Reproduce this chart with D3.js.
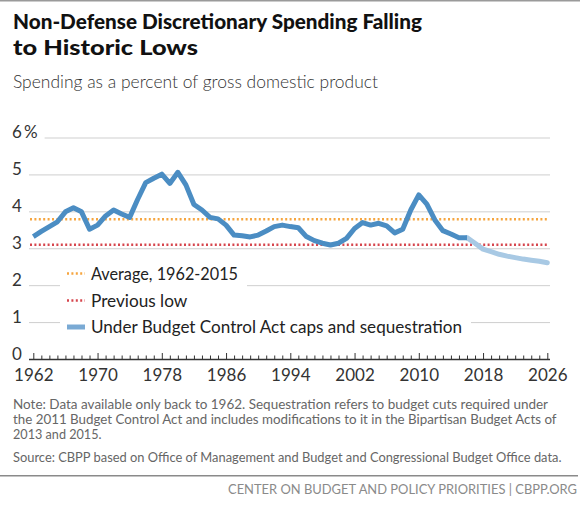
<!DOCTYPE html>
<html>
<head>
<meta charset="utf-8">
<script src="https://cdn.jsdelivr.net/npm/d3@7"></script>
<style>
  body { margin: 0; background: #fff; }
  text { font-family: Lato, "Open Sans", sans-serif; }
</style>
</head>
<body>
<script>
// spending as % of GDP
const histStart = 1962;
const histValues = [3.33, 3.47, 3.60, 3.73, 4.00, 4.11, 4.00, 3.53, 3.64, 3.89,
  4.05, 3.94, 3.85, 4.34, 4.79, 4.91, 5.02, 4.77, 5.07, 4.73,
  4.20, 4.05, 3.85, 3.81, 3.64, 3.37, 3.35, 3.32, 3.37, 3.48,
  3.60, 3.64, 3.60, 3.57, 3.33, 3.22, 3.15, 3.10, 3.15, 3.28,
  3.55, 3.71, 3.64, 3.69, 3.62, 3.43, 3.53, 4.05, 4.46, 4.21,
  3.78, 3.49, 3.40, 3.30, 3.30];
const projStart = 2016;
const projValues = [3.30, 3.15, 2.99, 2.92, 2.85, 2.80, 2.76, 2.72, 2.69, 2.66, 2.62];
const averageValue = 3.80;
const previousLow = 3.11;
const yTicks = [0, 1, 2, 3, 4, 5, 6];
const xLabels = [1962, 1970, 1978, 1986, 1994, 2002, 2010, 2018, 2026];
const legendItems = ["Average, 1962-2015", "Previous low", "Under Budget Control Act caps and sequestration"];
const noteLines = [
  "Note: Data available only back to 1962. Sequestration refers to budget cuts required under",
  "the 2011 Budget Control Act and includes modifications to it in the Bipartisan Budget Acts of",
  "2013 and 2015."
];
const sourceLine = "Source: CBPP based on Office of Management and Budget and Congressional Budget Office data.";

const width = 580, height = 507;
const hist = histValues.map((v, i) => ({year: histStart + i, value: v}));
const proj = projValues.map((v, i) => ({year: projStart + i, value: v}));

const svg = d3.select("body").append("svg")
  .attr("width", width)
  .attr("height", height);

const x = d3.scaleLinear().domain([1962, 2026]).range([33.3, 547.3]);
const y = d3.scaleLinear().domain([0, 6]).range([359.5, 138]);

// top rule
svg.append("line").attr("x1", 0).attr("x2", width).attr("y1", 0.75).attr("y2", 0.75)
  .attr("stroke", "#9a9a9a").attr("stroke-width", 1.5);

// title + subtitle
svg.append("text").attr("x", 13).attr("y", 29)
  .attr("font-size", 21.5).attr("font-weight", 900).attr("fill", "#111")
  .attr("textLength", 409).attr("lengthAdjust", "spacingAndGlyphs")
  .text("Non-Defense Discretionary Spending Falling");
svg.append("text").attr("x", 13).attr("y", 55)
  .attr("font-size", 21.5).attr("font-weight", 900).attr("fill", "#111")
  .attr("textLength", 185).attr("lengthAdjust", "spacingAndGlyphs")
  .text("to Historic Lows");
svg.append("text").attr("x", 13).attr("y", 88)
  .attr("font-size", 17.5).attr("font-weight", 300).attr("fill", "#333")
  .attr("textLength", 365).attr("lengthAdjust", "spacingAndGlyphs")
  .text("Spending as a percent of gross domestic product");

// y labels + gridlines
const yg = svg.append("g");
yTicks.forEach(t => {
  const lab = yg.append("text").attr("x", 12).attr("y", y(t))
    .attr("font-size", 17).attr("fill", "#333")
    .text(t === 6 ? "6\u2009%" : t);
  if (t > 0) {
    const bx = lab.node().getBBox();
    yg.append("line")
      .attr("x1", Math.max(29, bx.x + bx.width + 7)).attr("x2", 550)
      .attr("y1", y(t)).attr("y2", y(t))
      .attr("stroke", "#cfcfcf").attr("stroke-width", 1);
  }
});

// reference lines
svg.append("line").attr("x1", 30).attr("x2", 549)
  .attr("y1", y(averageValue)).attr("y2", y(averageValue))
  .attr("stroke", "#f6a53f").attr("stroke-width", 2.5).attr("stroke-dasharray", "2,2.4");
svg.append("line").attr("x1", 30).attr("x2", 549)
  .attr("y1", y(previousLow)).attr("y2", y(previousLow))
  .attr("stroke", "#d6464e").attr("stroke-width", 2.5).attr("stroke-dasharray", "2,2.4");

// x axis: yearly ticks, taller every 8 years
const xAxis = svg.append("g").attr("transform", `translate(0,${y(0)})`)
  .call(d3.axisBottom(x).tickValues(d3.range(1962, 2027)).tickSize(-4).tickFormat(""));
xAxis.select(".domain").remove();
xAxis.selectAll(".tick line")
  .attr("stroke", "#333").attr("stroke-width", 1)
  .attr("y2", d => xLabels.includes(d) ? -6.5 : -4);
xAxis.append("line").attr("x1", 29).attr("x2", 550).attr("y1", 0).attr("y2", 0)
  .attr("stroke", "#333").attr("stroke-width", 1.3);

const xLab = svg.append("g").attr("transform", `translate(0,${y(0)})`)
  .call(d3.axisBottom(x).tickValues(xLabels).tickSize(0).tickPadding(6).tickFormat(d3.format("d")));
xLab.select(".domain").remove();
xLab.selectAll("text").attr("font-size", 17).attr("fill", "#333")
  .attr("font-family", "Lato, sans-serif").attr("dy", "0.9em");

// series
const line = d3.line().x(d => x(d.year)).y(d => y(d.value)).curve(d3.curveLinear);
svg.append("path").datum(proj).attr("d", line)
  .attr("fill", "none").attr("stroke", "#a8c9e4").attr("stroke-width", 5)
  .attr("stroke-linejoin", "round").attr("stroke-linecap", "round");
svg.append("path").datum(hist).attr("d", line)
  .attr("fill", "none").attr("stroke", "#4b8dc3").attr("stroke-width", 5)
  .attr("stroke-linejoin", "round");

// legend
const legendY = [273.5, 300.5, 327];
const legendStyles = [
  {stroke: "#f6a53f", w: 2.5, dash: "2,2.4"},
  {stroke: "#d6464e", w: 2.5, dash: "2,2.4"},
  {stroke: "#7aaad4", w: 5, dash: null}
];
const lg = svg.append("g");
legendItems.forEach((name, i) => {
  const row = lg.append("g");
  const bg = row.append("rect").attr("fill", "#fff");
  row.append("line").attr("x1", 67).attr("x2", 85)
    .attr("y1", legendY[i]).attr("y2", legendY[i])
    .attr("stroke", legendStyles[i].stroke).attr("stroke-width", legendStyles[i].w)
    .attr("stroke-dasharray", legendStyles[i].dash);
  const t = row.append("text").attr("x", 91).attr("y", legendY[i]).attr("dy", "0.36em")
    .attr("font-size", 17.2).attr("fill", "#222").text(name);
  if (i === 2) t.attr("textLength", 371).attr("lengthAdjust", "spacingAndGlyphs");
  if (i === 0) t.attr("textLength", 147).attr("lengthAdjust", "spacingAndGlyphs");
  const bx = t.node().getBBox();
  bg.attr("x", 60).attr("y", legendY[i] - 13.5).attr("height", 27)
    .attr("width", bx.x + bx.width + 9 - 60);
});

// notes
const noteLengths = [535, 543.5, 88.5];
noteLines.forEach((s, i) => {
  svg.append("text").attr("x", 13).attr("y", 408.5 + i * 15.2)
    .attr("font-size", 13).attr("fill", "#666")
    .attr("textLength", noteLengths[i]).attr("lengthAdjust", "spacingAndGlyphs")
    .text(s);
});
svg.append("text").attr("x", 13).attr("y", 461.5)
  .attr("font-size", 13).attr("fill", "#666")
  .attr("textLength", 548.5).attr("lengthAdjust", "spacingAndGlyphs")
  .text(sourceLine);

// footer
svg.append("line").attr("x1", 0).attr("x2", 578).attr("y1", 475.7).attr("y2", 475.7)
  .attr("stroke", "#8a8a8a").attr("stroke-width", 1.5);
svg.append("text").attr("x", 577).attr("y", 493.5).attr("text-anchor", "end")
  .attr("font-size", 12.5).attr("fill", "#8a8a8a")
  .attr("textLength", 349).attr("lengthAdjust", "spacingAndGlyphs")
  .text("CENTER ON BUDGET AND POLICY PRIORITIES | CBPP.ORG");
</script>
</body>
</html>
